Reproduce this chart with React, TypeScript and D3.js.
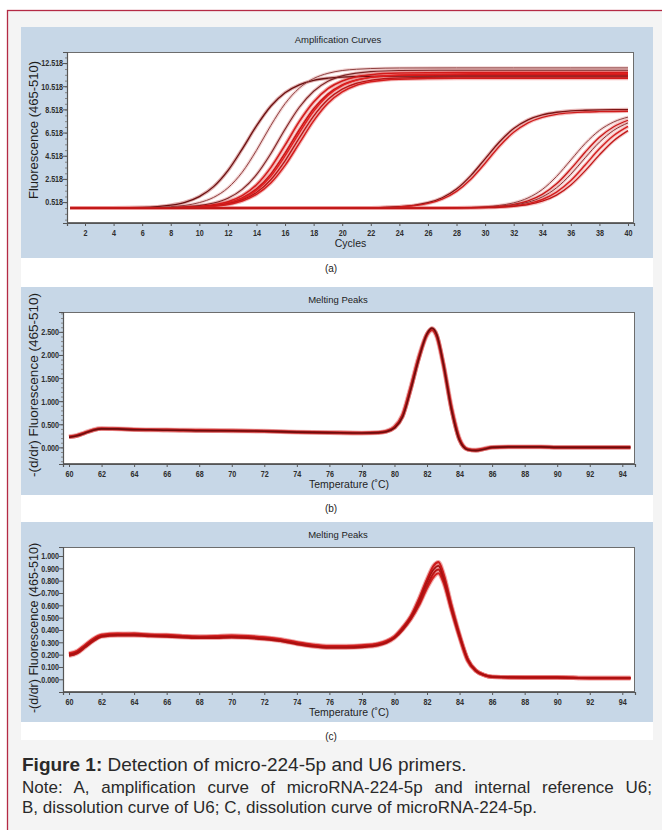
import React, { useEffect, useRef } from 'react'
import * as d3 from 'd3'

const FONT = "'Liberation Sans', Arial, sans-serif"
const PANEL_BG = '#c7d7e7'

// ---- (a) amplification curves ----
const cycleTicks = [2, 4, 6, 8, 10, 12, 14, 16, 18, 20, 22, 24, 26, 28, 30, 32, 34, 36, 38, 40]
const fluorTicks = [0.518, 2.518, 4.518, 6.518, 8.518, 10.518, 12.518]

// early group (U6), read at these cycles
const earlyCycles = [1, 6, 8, 9, 10, 11, 12, 13, 14, 15, 16, 17, 18, 19, 20, 21, 22, 24, 28, 32, 36, 40]
const u6Curve1 = [0.0, 0.06, 0.25, 0.5, 0.99, 1.85, 3.23, 5.09, 7.09, 8.79, 9.96, 10.64, 11.02, 11.21, 11.31, 11.35, 11.37, 11.39, 11.4, 11.4, 11.4, 11.4]
const u6Curve2 = [0.0, 0.03, 0.12, 0.23, 0.47, 0.92, 1.74, 3.09, 4.98, 7.12, 9.01, 10.36, 11.18, 11.63, 11.87, 11.98, 12.04, 12.09, 12.1, 12.1, 12.1, 12.1]
const u6Curve3 = [0.0, 0.02, 0.05, 0.11, 0.21, 0.43, 0.85, 1.61, 2.88, 4.69, 6.8, 8.7, 10.08, 10.94, 11.41, 11.65, 11.78, 11.87, 11.9, 11.9, 11.9, 11.9]
const u6Curve4 = [0.0, 0.01, 0.03, 0.07, 0.14, 0.28, 0.55, 1.08, 2.01, 3.49, 5.43, 7.48, 9.16, 10.31, 10.97, 11.34, 11.51, 11.65, 11.7, 11.7, 11.7, 11.7]
const u6Curve5 = [0.0, 0.01, 0.03, 0.05, 0.11, 0.22, 0.44, 0.87, 1.65, 2.93, 4.74, 6.76, 8.57, 9.84, 10.63, 11.05, 11.28, 11.44, 11.5, 11.5, 11.5, 11.5]
const u6Curve6 = [0.0, 0.01, 0.02, 0.05, 0.1, 0.2, 0.41, 0.8, 1.52, 2.74, 4.5, 6.5, 8.35, 9.72, 10.57, 11.04, 11.29, 11.49, 11.58, 11.6, 11.6, 11.6]
const u6Curve7 = [0.0, 0.01, 0.02, 0.04, 0.09, 0.18, 0.35, 0.7, 1.34, 2.45, 4.08, 6.06, 7.93, 9.36, 10.26, 10.77, 11.03, 11.23, 11.3, 11.3, 11.3, 11.3]
const u6Curve8 = [0.0, 0.01, 0.02, 0.04, 0.08, 0.15, 0.31, 0.61, 1.18, 2.16, 3.68, 5.6, 7.52, 9.04, 10.02, 10.6, 10.9, 11.12, 11.2, 11.2, 11.2, 11.2]

// late group (microRNA-224-5p)
const lateCycles = [1, 20, 22, 23, 24, 25, 26, 27, 28, 29, 30, 31, 32, 33, 34, 35, 36, 37, 38, 39, 40]
const mirCurve1 = [0.0, 0.01, 0.03, 0.06, 0.12, 0.23, 0.46, 0.89, 1.64, 2.8, 4.25, 5.7, 6.86, 7.61, 8.04, 8.27, 8.39, 8.44, 8.47, 8.49, 8.5]
const mirCurve2 = [0.0, 0.01, 0.02, 0.05, 0.1, 0.2, 0.4, 0.77, 1.44, 2.49, 3.87, 5.34, 6.54, 7.36, 7.83, 8.09, 8.22, 8.29, 8.32, 8.34, 8.35]
const mirCurve3 = [0.0, 0.0, 0.0, 0.0, 0.0, 0.0, 0.01, 0.01, 0.03, 0.06, 0.11, 0.23, 0.45, 0.87, 1.6, 2.73, 4.15, 5.57, 6.7, 7.43, 7.85]
const mirCurve4 = [0.0, 0.0, 0.0, 0.0, 0.0, 0.0, 0.01, 0.01, 0.02, 0.04, 0.08, 0.16, 0.32, 0.62, 1.18, 2.09, 3.38, 4.82, 6.11, 7.02, 7.58]
const mirCurve5 = [0.0, 0.0, 0.0, 0.0, 0.0, 0.0, 0.0, 0.01, 0.02, 0.03, 0.06, 0.13, 0.25, 0.5, 0.96, 1.75, 2.92, 4.34, 5.69, 6.71, 7.35]
const mirCurve6 = [0.0, 0.0, 0.0, 0.0, 0.0, 0.0, 0.0, 0.0, 0.01, 0.02, 0.05, 0.09, 0.19, 0.38, 0.74, 1.38, 2.38, 3.71, 5.11, 6.26, 7.05]
const mirCurve7 = [0.0, 0.0, 0.0, 0.0, 0.0, 0.0, 0.0, 0.0, 0.01, 0.02, 0.04, 0.07, 0.15, 0.3, 0.59, 1.12, 1.99, 3.21, 4.59, 5.81, 6.68]

// ---- (b) melting peaks, U6 ----
const tempTicks = [60, 62, 64, 66, 68, 70, 72, 74, 76, 78, 80, 82, 84, 86, 88, 90, 92, 94]
const meltTicksB = [0, 0.5, 1.0, 1.5, 2.0, 2.5]
const tempsB = [60, 60.5, 61, 61.5, 62, 63, 64, 65, 66, 67, 68, 70, 72, 74, 76, 78, 79, 79.5, 80, 80.5, 81, 81.5, 82, 82.3, 82.6, 83, 83.5, 84, 84.5, 85, 85.5, 86, 87, 88, 89, 90, 92, 94.5]
const u6MeltA = [0.22, 0.25, 0.31, 0.37, 0.4, 0.4, 0.38, 0.38, 0.37, 0.37, 0.36, 0.36, 0.35, 0.33, 0.32, 0.31, 0.32, 0.34, 0.42, 0.66, 1.25, 1.92, 2.46, 2.58, 2.44, 1.82, 0.82, 0.15, -0.05, -0.07, -0.04, 0.0, 0.01, 0.01, 0.01, 0.0, 0.0, 0.0]
const u6MeltB = [0.23, 0.26, 0.32, 0.38, 0.41, 0.4, 0.39, 0.38, 0.38, 0.37, 0.37, 0.36, 0.35, 0.33, 0.32, 0.31, 0.32, 0.35, 0.44, 0.7, 1.3, 1.96, 2.44, 2.54, 2.4, 1.8, 0.86, 0.18, -0.04, -0.06, -0.03, 0.0, 0.01, 0.01, 0.01, 0.0, 0.0, 0.0]

// ---- (c) melting peaks, microRNA-224-5p ----
const meltTicksC = [0, 0.1, 0.2, 0.3, 0.4, 0.5, 0.6, 0.7, 0.8, 0.9, 1.0]
const tempsC = [60, 60.5, 61, 61.5, 62, 63, 64, 65, 66, 67, 68, 69, 70, 71, 72, 73, 74, 75, 76, 77, 78, 79, 79.5, 80, 80.5, 81, 81.5, 82, 82.4, 82.7, 83, 83.5, 84, 84.5, 85, 85.5, 86, 88, 90, 92, 94.5]
const mirMeltA = [0.2, 0.22, 0.27, 0.32, 0.355, 0.365, 0.37, 0.36, 0.355, 0.35, 0.345, 0.345, 0.35, 0.345, 0.335, 0.32, 0.295, 0.275, 0.265, 0.265, 0.27, 0.285, 0.305, 0.345, 0.42, 0.51, 0.65, 0.81, 0.92, 0.95, 0.86, 0.6, 0.36, 0.16, 0.07, 0.035, 0.02, 0.015, 0.015, 0.01, 0.01]
const mirMeltB = [0.2, 0.22, 0.27, 0.32, 0.35, 0.36, 0.36, 0.355, 0.35, 0.345, 0.34, 0.34, 0.345, 0.34, 0.33, 0.315, 0.29, 0.27, 0.26, 0.26, 0.265, 0.28, 0.3, 0.34, 0.41, 0.5, 0.63, 0.79, 0.89, 0.92, 0.83, 0.58, 0.35, 0.16, 0.07, 0.035, 0.02, 0.015, 0.015, 0.01, 0.01]
const mirMeltC = [0.19, 0.21, 0.26, 0.31, 0.345, 0.355, 0.355, 0.35, 0.345, 0.34, 0.335, 0.335, 0.34, 0.335, 0.325, 0.31, 0.285, 0.265, 0.255, 0.255, 0.26, 0.275, 0.295, 0.335, 0.4, 0.49, 0.61, 0.76, 0.86, 0.89, 0.81, 0.57, 0.35, 0.16, 0.07, 0.035, 0.02, 0.015, 0.015, 0.01, 0.01]
const mirMeltD = [0.21, 0.23, 0.28, 0.33, 0.36, 0.37, 0.365, 0.36, 0.36, 0.35, 0.345, 0.35, 0.355, 0.35, 0.34, 0.325, 0.3, 0.28, 0.27, 0.27, 0.275, 0.29, 0.31, 0.345, 0.41, 0.49, 0.6, 0.74, 0.83, 0.86, 0.79, 0.56, 0.34, 0.15, 0.07, 0.035, 0.02, 0.015, 0.015, 0.01, 0.01]

const captionTitle = ['Figure 1:', ' Detection of micro-224-5p and U6 primers.']
const captionLines = [
  'Note: A, amplification curve of microRNA-224-5p and internal reference U6;',
  'B, dissolution curve of U6; C, dissolution curve of microRNA-224-5p.',
]

type Series = { xs: number[]; values: number[]; color: string; halo: string; width: number }

type Panel = {
  top: number
  bottom: number
  plotTop: number
  plotBottom: number
  left: number
  right: number
  xDomain: [number, number]
  yDomain: [number, number]
  xTicks: number[]
  yTicks: number[]
  yMinor: number
  title: string
  xTitle: string
  yTitle: string
  yTitleY: number
  yTitleSize: number
  tag: string
  tagY: number
  series: Series[]
}

const panels: Panel[] = [
  {
    top: 27, bottom: 258, plotTop: 52, plotBottom: 223, left: 67, right: 634,
    xDomain: [0.74, 40.42], yDomain: [-1.29, 13.47],
    xTicks: cycleTicks, yTicks: fluorTicks, yMinor: 0.5,
    title: 'Amplification Curves', xTitle: 'Cycles', yTitle: 'Fluorescence (465-510)',
    yTitleY: 130, yTitleSize: 13, tag: '(a)', tagY: 272,
    series: [
      { xs: earlyCycles, values: u6Curve1, color: '#6a1010', halo: '#c46a6a', width: 1.3 },
      { xs: earlyCycles, values: u6Curve2, color: '#8e4040', halo: '#e8b0b0', width: 1.0 },
      { xs: earlyCycles, values: u6Curve3, color: '#7a2424', halo: '#d98a8a', width: 1.1 },
      { xs: earlyCycles, values: u6Curve4, color: '#d21a1a', halo: '#e56060', width: 1.5 },
      { xs: earlyCycles, values: u6Curve5, color: '#c81414', halo: '#ea7070', width: 1.5 },
      { xs: earlyCycles, values: u6Curve6, color: '#e02020', halo: '#ef8080', width: 1.5 },
      { xs: earlyCycles, values: u6Curve7, color: '#b81515', halo: '#e88888', width: 1.4 },
      { xs: earlyCycles, values: u6Curve8, color: '#d41c1c', halo: '#ec7a7a', width: 1.5 },
      { xs: lateCycles, values: mirCurve1, color: '#7c1414', halo: '#d47878', width: 1.3 },
      { xs: lateCycles, values: mirCurve2, color: '#d01c1c', halo: '#ec9090', width: 1.4 },
      { xs: lateCycles, values: mirCurve3, color: '#8e4242', halo: '#e8b0b0', width: 1.0 },
      { xs: lateCycles, values: mirCurve4, color: '#c81818', halo: '#ec8a8a', width: 1.3 },
      { xs: lateCycles, values: mirCurve5, color: '#8a3030', halo: '#e6a6a6', width: 1.0 },
      { xs: lateCycles, values: mirCurve6, color: '#d41e1e', halo: '#ee8c8c', width: 1.4 },
      { xs: lateCycles, values: mirCurve7, color: '#c01616', halo: '#ec9a9a', width: 1.3 },
    ],
  },
  {
    top: 287, bottom: 495, plotTop: 312, plotBottom: 464, left: 63, right: 635,
    xDomain: [59.63, 94.78], yDomain: [-0.36, 2.93],
    xTicks: tempTicks, yTicks: meltTicksB, yMinor: 0.1,
    title: 'Melting Peaks', xTitle: 'Temperature (\u02daC)', yTitle: '-(d/dr) Fluorescence (465-510)',
    yTitleY: 385, yTitleSize: 13.5, tag: '(b)', tagY: 512,
    series: [
      { xs: tempsB, values: u6MeltB, color: '#c42020', halo: '#e07070', width: 2.6 },
      { xs: tempsB, values: u6MeltA, color: '#6e0c0c', halo: '#cc3030', width: 1.6 },
    ],
  },
  {
    top: 522, bottom: 722, plotTop: 547, plotBottom: 692, left: 63, right: 635,
    xDomain: [59.63, 94.78], yDomain: [-0.103, 1.073],
    xTicks: tempTicks, yTicks: meltTicksC, yMinor: 0,
    title: 'Melting Peaks', xTitle: 'Temperature (\u02daC)', yTitle: '-(d/dr) Fluorescence (465-510)',
    yTitleY: 628, yTitleSize: 12.5, tag: '(c)', tagY: 740,
    series: [
      { xs: tempsC, values: mirMeltD, color: '#d42020', halo: '#e87070', width: 2.2 },
      { xs: tempsC, values: mirMeltA, color: '#cc1a1a', halo: '#e06060', width: 2.2 },
      { xs: tempsC, values: mirMeltC, color: '#b81414', halo: '#e88080', width: 2.0 },
      { xs: tempsC, values: mirMeltB, color: '#a81010', halo: '#de5a5a', width: 1.6 },
    ],
  },
]

function drawPanel(svg: d3.Selection<SVGSVGElement, unknown, null, undefined>, p: Panel, idx: number) {
  const g = svg.append('g')
  g.append('rect')
    .attr('x', 21).attr('y', p.top)
    .attr('width', 632).attr('height', p.bottom - p.top)
    .attr('fill', PANEL_BG)

  const x = d3.scaleLinear().domain(p.xDomain).range([p.left, p.right])
  const y = d3.scaleLinear().domain(p.yDomain).range([p.plotBottom, p.plotTop])

  g.append('rect')
    .attr('x', p.left).attr('y', p.plotTop)
    .attr('width', p.right - p.left).attr('height', p.plotBottom - p.plotTop)
    .attr('fill', '#ffffff')

  const clipId = `plot-clip-${idx}`
  g.append('clipPath').attr('id', clipId)
    .append('rect')
    .attr('x', p.left).attr('y', p.plotTop)
    .attr('width', p.right - p.left).attr('height', p.plotBottom - p.plotTop)

  const line = d3.line<[number, number]>()
    .x(d => x(d[0]))
    .y(d => y(d[1]))
    .curve(d3.curveMonotoneX)

  const curves = g.append('g').attr('clip-path', `url(#${clipId})`)
  const pts = p.series.map(s => s.xs.map((xv, i) => [xv, s.values[i]] as [number, number]))

  // soft halo first, then the line cores
  p.series.forEach((s, i) => {
    curves.append('path')
      .attr('d', line(pts[i]))
      .attr('fill', 'none')
      .attr('stroke', s.halo)
      .attr('stroke-width', s.width + 2.2)
      .attr('stroke-opacity', 0.55)
  })
  p.series.forEach((s, i) => {
    curves.append('path')
      .attr('d', line(pts[i]))
      .attr('fill', 'none')
      .attr('stroke', s.color)
      .attr('stroke-width', s.width)
  })

  // frame
  g.append('rect')
    .attr('x', p.left + 0.5).attr('y', p.plotTop + 0.5)
    .attr('width', p.right - p.left - 1).attr('height', p.plotBottom - p.plotTop - 1)
    .attr('fill', 'none')
    .attr('stroke', '#6d6d6d')
    .attr('stroke-width', 1)

  // minor ticks on the y axis
  if (p.yMinor > 0) {
    const minor = d3.range(Math.ceil(p.yDomain[0] / p.yMinor) * p.yMinor, p.yDomain[1], p.yMinor)
    g.append('g')
      .attr('transform', `translate(${p.left},0)`)
      .call(d3.axisLeft(y).tickValues(minor).tickSize(2).tickFormat(() => ''))
      .call(a => a.select('.domain').remove())
      .selectAll('line').attr('stroke', '#888')
  }

  const xAxis = g.append('g')
    .attr('transform', `translate(0,${p.plotBottom})`)
    .call(d3.axisBottom(x).tickValues(p.xTicks).tickSize(3).tickPadding(3).tickFormat(d3.format('d')))
  const yAxis = g.append('g')
    .attr('transform', `translate(${p.left},0)`)
    .call(d3.axisLeft(y).tickValues(p.yTicks).tickSize(4).tickPadding(1).tickFormat(d3.format('.3f')))

  ;[xAxis, yAxis].forEach(a => {
    a.select('.domain').attr('stroke', '#555').attr('stroke-width', 1.2)
    a.selectAll('line').attr('stroke', '#555')
    a.selectAll('text')
      .attr('fill', '#2e2e2e')
      .attr('font-family', FONT)
      .attr('font-size', 9.2)
      .attr('font-weight', 'bold')
      // the instrument software uses a condensed face
      .attr('transform', 'scale(0.78,1)')
  })

  g.append('text')
    .attr('x', 338).attr('y', p.top + 16)
    .attr('text-anchor', 'middle')
    .attr('font-family', FONT).attr('font-size', 9.5)
    .attr('fill', '#1e1e1e')
    .text(p.title)

  g.append('text')
    .attr('x', (p.left + p.right) / 2).attr('y', p.plotBottom + 24)
    .attr('text-anchor', 'middle')
    .attr('font-family', FONT).attr('font-size', 10.5)
    .attr('fill', '#1e1e1e')
    .text(p.xTitle)

  g.append('text')
    .attr('transform', `translate(38,${p.yTitleY}) rotate(-90)`)
    .attr('text-anchor', 'middle')
    .attr('font-family', FONT).attr('font-size', p.yTitleSize)
    .attr('fill', '#1e1e1e')
    .text(p.yTitle)

  svg.append('text')
    .attr('x', 331).attr('y', p.tagY)
    .attr('text-anchor', 'middle')
    .attr('font-family', FONT).attr('font-size', 10)
    .attr('fill', '#222')
    .text(p.tag)
}

export default function App() {
  const ref = useRef<SVGSVGElement>(null)

  useEffect(() => {
    const svg = d3.select(ref.current as SVGSVGElement)
    svg.selectAll('*').remove()

    svg.append('rect').attr('width', 662).attr('height', 830).attr('fill', '#ffffff')
    // frame of the figure box
    svg.append('rect')
      .attr('x', 7.5).attr('y', 10.5)
      .attr('width', 670).attr('height', 840)
      .attr('fill', '#f4f4f4')
      .attr('stroke', '#b42a44')
      .attr('stroke-width', 1.3)
    svg.append('rect')
      .attr('x', 21).attr('y', 27)
      .attr('width', 632).attr('height', 713)
      .attr('fill', '#ffffff')

    panels.forEach((p, i) => drawPanel(svg, p, i))

    const cap = svg.append('g').attr('font-family', FONT).attr('fill', '#2a2a2a')
    const first = cap.append('text').attr('x', 22).attr('y', 771).attr('font-size', 19)
    first.append('tspan').attr('font-weight', 'bold').text(captionTitle[0])
    first.append('tspan').text(captionTitle[1])
    captionLines.forEach((t, i) => {
      const tx = cap.append('text').attr('x', 22).attr('y', 793 + i * 20).attr('font-size', 17).text(t)
      // first note line is justified to the right edge of the box
      if (i === 0) {
        const node = tx.node() as SVGTextElement
        const w = node.getComputedTextLength()
        const gaps = t.split(' ').length - 1
        if (w < 630 && gaps > 0) tx.attr('word-spacing', (630 - w) / gaps)
      }
    })
  }, [])

  return (
    <svg
      ref={ref}
      width={662}
      height={830}
      style={{ position: 'absolute', left: 0, top: 0, display: 'block' }}
    />
  )
}
